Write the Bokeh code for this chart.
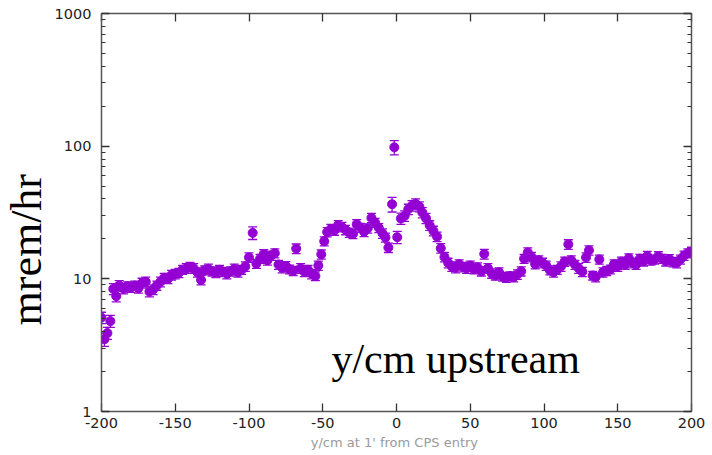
from bokeh.plotting import figure
from bokeh.models import (ColumnDataSource, Whisker, TeeHead, LinearAxis, LogAxis,
                          Label, Title, FixedTicker, Range1d)
from bokeh.embed import file_html
from bokeh.resources import INLINE

# dose-rate scan: position along the beam line (cm), reading (mrem/hr), uncertainty
pos_cm = [
    -200, -198, -196, -194, -192, -190, -188, -185, -182.5, -180,
    -177.5, -175, -172.5, -170, -167.5, -165, -162.5, -160, -157.5, -155,
    -152.5, -150, -147.5, -145, -142.5, -140, -137.5, -135, -132.5, -130,
    -127.5, -125, -122.5, -120, -117.5, -115, -112.5, -110, -107.5, -105,
    -102.5, -100, -97.5, -95, -92.5, -90, -87.5, -85, -82.5, -80,
    -77.5, -75, -72.5, -70, -68, -65, -62.5, -60, -57.5, -55,
    -53, -51, -49, -47, -44.5, -42, -39.5, -37, -34.5, -32,
    -29.5, -27, -24.5, -22, -19.5, -17, -14.5, -12, -9.5, -7.5,
    -5.5, -3, -1.5, 0.5, 3, 5.5, 8, 10.5, 13, 15.5,
    17.5, 20, 22.5, 25, 27.5, 30, 32.5, 35, 37.5, 40,
    42.5, 45, 47.5, 50, 52.5, 55, 57.5, 59.5, 62, 64.5,
    67, 69.5, 72, 74.5, 77, 79.5, 82, 84.5, 86.5, 89,
    91.5, 94, 96.5, 99, 101.5, 104, 106.5, 109, 111.5, 114,
    116.5, 118.5, 121, 123.5, 126, 128.5, 130.5, 133, 135, 137.5,
    140, 142.5, 145, 147.5, 150, 152.5, 155, 157.5, 160, 162.5,
    165, 167.5, 170, 172.5, 175, 177.5, 180, 182.5, 185, 187.5,
    190, 192.5, 195, 197.5, 200,
]
dose = [
    5.1, 3.5, 3.9, 4.8, 8.4, 7.4, 8.9, 8.4, 8.8, 8.6,
    8.9, 8.5, 9.3, 9.5, 8.0, 8.3, 8.9, 9.5, 10.2, 10.0,
    10.7, 10.9, 11.1, 11.7, 12.0, 12.3, 12.0, 11.2, 9.8, 11.6,
    11.9, 11.4, 11.1, 11.7, 11.3, 10.9, 11.4, 11.9, 11.2, 11.7,
    12.4, 14.5, 22.2, 13.0, 14.2, 15.4, 13.8, 15.0, 15.6, 12.8,
    12.1, 12.5, 11.8, 11.5, 16.9, 12.0, 11.3, 11.7, 10.9, 10.5,
    12.6, 15.3, 19.2, 22.5, 23.8, 23.2, 25.5, 24.6, 23.4, 22.3,
    21.8, 25.8, 24.3, 22.6, 24.0, 28.8, 26.5, 24.2, 22.0, 20.5,
    17.2, 36.5, 98.0, 20.6, 28.5, 29.8, 33.5, 35.6, 36.8, 35.0,
    31.6, 28.6, 25.3, 23.0, 20.8, 17.0, 14.6, 13.2, 12.4, 12.1,
    12.9, 12.3, 12.0, 12.6, 11.8, 12.2, 11.4, 15.4, 12.0, 11.0,
    10.6, 11.2, 10.4, 10.2, 10.5, 10.3, 10.8, 11.4, 14.2, 15.8,
    14.6, 12.9, 13.8, 13.2, 12.6, 11.6, 11.2, 11.7, 12.4, 13.5,
    18.2, 13.8, 12.8, 12.0, 11.3, 14.5, 16.4, 10.6, 10.3, 14.0,
    11.2, 11.5, 11.8, 12.9, 12.4, 13.5, 12.8, 14.3, 13.2, 12.8,
    14.2, 13.6, 14.9, 13.8, 14.0, 14.8, 14.2, 13.6, 14.1, 13.4,
    13.2, 14.0, 15.0, 15.6, 16.0,
]
dose_err = [
    0.5, 0.4, 0.4, 0.5, 0.8, 0.7, 0.8, 0.7, 0.7, 0.7,
    0.7, 0.7, 0.8, 0.8, 0.7, 0.7, 0.7, 0.8, 0.8, 0.8,
    0.9, 0.9, 0.9, 0.9, 1.0, 1.0, 1.0, 0.9, 0.8, 0.9,
    1.0, 0.9, 0.9, 0.9, 0.9, 0.9, 0.9, 1.0, 0.9, 0.9,
    1.0, 1.2, 2.4, 1.0, 1.1, 1.2, 1.1, 1.2, 1.2, 1.0,
    1.0, 1.0, 0.9, 0.9, 1.4, 1.0, 0.9, 0.9, 0.9, 0.8,
    1.0, 1.2, 1.5, 1.8, 1.9, 1.9, 2.0, 2.0, 1.9, 1.8,
    1.7, 2.1, 1.9, 1.8, 1.9, 2.3, 2.1, 1.9, 1.8, 1.6,
    1.4, 4.6, 12.0, 2.2, 2.8, 2.7, 3.0, 3.2, 3.3, 3.0,
    2.8, 2.5, 2.1, 1.9, 1.7, 1.4, 1.2, 1.1, 1.0, 1.0,
    1.0, 1.0, 1.0, 1.0, 0.9, 1.0, 0.9, 1.3, 1.0, 0.9,
    0.8, 0.9, 0.8, 0.8, 0.8, 0.8, 0.9, 0.9, 1.1, 1.3,
    1.2, 1.0, 1.1, 1.1, 1.0, 0.9, 0.9, 0.9, 1.0, 1.1,
    1.5, 1.1, 1.0, 1.0, 0.9, 1.2, 1.3, 0.8, 0.8, 1.1,
    0.9, 0.9, 0.9, 1.0, 1.0, 1.1, 1.0, 1.1, 1.1, 1.0,
    1.1, 1.1, 1.2, 1.1, 1.1, 1.2, 1.1, 1.1, 1.1, 1.1,
    1.1, 1.1, 1.2, 1.2, 1.3,
]

x_ticks = [-200, -150, -100, -50, 0, 50, 100, 150, 200]
x_tick_labels = ["-200", "-150", "-100", "-50", "0", "50", "100", "150", "200"]
y_ticks = [1, 10, 100, 1000]
y_tick_labels = ["1", "10", "100", "1000"]

PURPLE = "#9400D3"
AXIS_GRAY = "#555555"
TICK_FONT = "DejaVu Sans"
y_minor = [m * d for d in (1, 10, 100) for m in range(2, 10)]

src = ColumnDataSource(dict(
    x=pos_cm,
    y=dose,
    lo=[v - e for v, e in zip(dose, dose_err)],
    hi=[v + e for v, e in zip(dose, dose_err)],
))

p = figure(frame_width=590, frame_height=398,
           x_range=Range1d(-200, 200), y_range=Range1d(1, 1000),
           y_axis_type="log", output_backend="svg", toolbar_location=None,
           min_border_left=100, min_border_right=22,
           min_border_top=13, min_border_bottom=44)
p.background_fill_color = "white"
p.border_fill_color = "white"
p.outline_line_color = None
p.xgrid.visible = False
p.ygrid.visible = False


def style_axis(ax):
    ax.axis_line_color = AXIS_GRAY
    ax.axis_line_width = 1.5
    ax.major_tick_line_color = "#333333"
    ax.major_tick_line_width = 1.3
    ax.minor_tick_line_color = "#333333"
    ax.minor_tick_line_width = 1.2
    ax.major_tick_in = 8
    ax.major_tick_out = 0
    ax.minor_tick_in = 4
    ax.minor_tick_out = 0
    ax.major_label_text_font = TICK_FONT
    ax.major_label_text_font_size = "14.5px"
    ax.major_label_text_color = "#222222"


# bottom axis with its caption
xa = p.xaxis[0]
xa.ticker = FixedTicker(ticks=x_ticks, minor_ticks=[])
xa.major_label_overrides = dict(zip(x_ticks, x_tick_labels))
style_axis(xa)
xa.major_label_standoff = 6
xa.axis_label = "y/cm  at 1' from CPS entry"
xa.axis_label_text_font = TICK_FONT
xa.axis_label_text_font_size = "13px"
xa.axis_label_text_font_style = "normal"
xa.axis_label_text_color = "#9a9a9a"
xa.axis_label_standoff = 4

# left axis
ya = p.yaxis[0]
ya.ticker = FixedTicker(ticks=y_ticks, minor_ticks=y_minor)
ya.major_label_overrides = dict(zip(y_ticks, y_tick_labels))
style_axis(ya)
ya.major_label_standoff = 10

# mirrored border axes carry ticks only
top = LinearAxis(ticker=FixedTicker(ticks=x_ticks, minor_ticks=[]))
style_axis(top)
top.major_label_overrides = {t: "" for t in x_ticks}
top.major_label_standoff = 0
p.add_layout(top, "above")

right = LogAxis(ticker=FixedTicker(ticks=y_ticks, minor_ticks=y_minor))
style_axis(right)
right.major_label_overrides = {t: "" for t in y_ticks}
right.major_label_standoff = 0
p.add_layout(right, "right")

# y-axis caption, set in the left margin
p.add_layout(Title(text="mrem/hr", align="left", offset=86, standoff=0,
                   vertical_align="middle",
                   text_font="Liberation Serif", text_font_size="44px",
                   text_font_style="normal", text_color="#000000"), "left")

# error bars and points
p.add_layout(Whisker(source=src, base="x", lower="lo", upper="hi", dimension="height",
                     line_color=PURPLE, line_width=1.3,
                     upper_head=TeeHead(size=9, line_color=PURPLE, line_width=1.3),
                     lower_head=TeeHead(size=9, line_color=PURPLE, line_width=1.3)))
p.scatter("x", "y", source=src, marker="circle", size=9,
          fill_color=PURPLE, line_color=PURPLE)

# in-plot caption
p.add_layout(Label(x=-44.1, y=2.5, text="y/cm upstream",
                   text_align="left", text_baseline="alphabetic",
                   text_font="Liberation Serif", text_font_size="42px",
                   text_color="#000000"))

open("out.html", "w").write(file_html(p, INLINE))
